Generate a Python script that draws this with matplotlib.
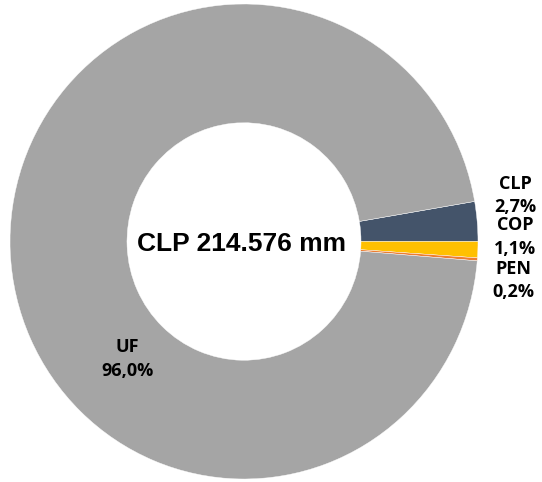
import matplotlib
matplotlib.use("Agg")
import matplotlib.pyplot as plt

# Share of CLP volume by currency (%)
currencies = ["CLP", "COP", "PEN", "UF"]
shares     = [2.7, 1.1, 0.2, 96.0]
colors     = ["#44546A", "#FFC000", "#ED7D31", "#A5A5A5"]
total_label = "CLP 214.576 mm"

fig = plt.figure(figsize=(5.42, 4.82), dpi=100)
ax = fig.add_axes([10 / 542, 3 / 482, 468 / 542, 475 / 482])

# ring starts at the top edge of the first slice and runs clockwise
start = 360 * shares[0] / sum(shares)
ax.pie(shares, colors=colors, startangle=start, counterclock=False,
       radius=1.0, wedgeprops=dict(width=0.5, edgecolor="white", linewidth=0.3))
ax.set_aspect("auto")
ax.set_xlim(-1, 1)
ax.set_ylim(-1, 1)
ax.axis("off")


def fmt(v):
    return f"{v:.1f}".replace(".", ",") + "%"


# label positions in axes data units
label_pos = {
    "CLP": (1.16, 0.193),
    "COP": (1.16, 0.019),
    "PEN": (1.152, -0.164),
    "UF":  (-0.498, -0.496),
}
for name, val in zip(currencies, shares):
    x, y = label_pos[name]
    ax.text(x, y, f"{name}\n{fmt(val)}", ha="center", va="center",
            fontsize=13, fontweight="bold", family="Open Sans",
            linespacing=1.4, color="black")

ax.text(-0.01, -0.01, total_label, ha="center", va="center",
        fontsize=19, fontweight="bold", family="Liberation Sans", color="black")

fig.savefig("out.png", dpi=100)
